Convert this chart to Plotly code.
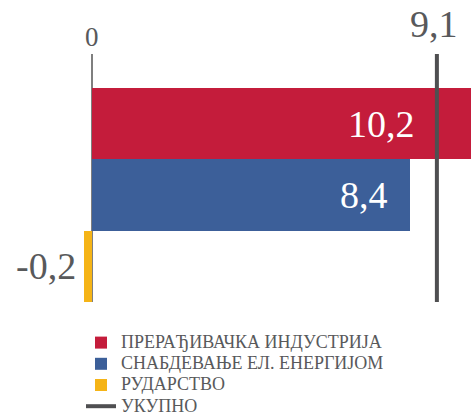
import plotly.graph_objects as go

categories = ["ПРЕРАЂИВАЧКА ИНДУСТРИЈА", "СНАБДЕВАЊЕ ЕЛ. ЕНЕРГИЈОМ", "РУДАРСТВО"]
values = [10.2, 8.4, -0.2]
colors = ["#C41C3B", "#3C5F99", "#F5B417"]
total_name = "УКУПНО"
total_value = 9.1
total_color = "#4F4F51"

def fmt(v):
    return f"{v:.1f}".replace(".", ",")

def legend_label(s):
    return f"<span style='font-size:18px'>{s}</span>"

FONT = "Liberation Serif"
W, H = 471, 412
top_m, bot_m = 54, 110
px_per_unit = 37.9
zero_px = 92
x_range = [-zero_px / px_per_unit, (W - zero_px) / px_per_unit]
n = len(categories)
top_pad = 0.477
y_range = [n - 0.5, -0.5 - top_pad]

fig = go.Figure()
for i, (c, v, col) in enumerate(zip(categories, values, colors)):
    fig.add_trace(go.Bar(
        x=[v], y=[i], orientation="h", name=legend_label(c),
        marker=dict(color=col, line=dict(width=0)),
        width=1, hoverinfo="skip",
    ))

fig.add_trace(go.Scatter(
    x=[total_value, total_value], y=y_range, mode="lines", name=legend_label(total_name),
    line=dict(color=total_color, width=4), hoverinfo="skip",
))

# value labels
for i, v in enumerate(values):
    if v >= 0:
        fig.add_annotation(
            x=min(v, total_value), y=i, xref="x", yref="y",
            text=fmt(v), showarrow=False, xanchor="right", xshift=-20,
            font=dict(family=FONT, size=38, color="white"),
        )
    else:
        fig.add_annotation(
            x=v, y=i, xref="x", yref="y",
            text=fmt(v), showarrow=False, xanchor="right", xshift=-6,
            font=dict(family=FONT, size=38, color="#58595B"),
        )

# top labels
fig.add_annotation(x=0, y=1, xref="x", yref="paper", text="0", showarrow=False,
                   yanchor="bottom", yshift=0,
                   font=dict(family=FONT, size=27, color="#58595B"))
fig.add_annotation(x=total_value, y=1, xref="x", yref="paper", text=fmt(total_value),
                   showarrow=False, yanchor="bottom", yshift=7, xshift=-3,
                   font=dict(family=FONT, size=38, color="#58595B"))

fig.update_layout(
    width=W, height=H,
    margin=dict(l=0, r=0, t=top_m, b=bot_m, pad=0, autoexpand=False),
    paper_bgcolor="white", plot_bgcolor="white",
    barmode="overlay", bargap=0,
    showlegend=True,
    legend=dict(
        xref="container", yref="container",
        x=81 / W, y=1 - 327 / H,
        xanchor="left", yanchor="top",
        font=dict(family=FONT, size=14, color="#58595B"),
        bgcolor="rgba(0,0,0,0)", tracegroupgap=0,
    ),
    xaxis=dict(range=x_range, showgrid=False, showticklabels=False, ticks="",
               zeroline=True, zerolinecolor="#7F7F7F", zerolinewidth=1.5,
               fixedrange=True),
    yaxis=dict(range=y_range, showgrid=False, showticklabels=False, ticks="",
               zeroline=False, fixedrange=True),
)

fig.write_html(
    "out.html",
    config={"displayModeBar": False},
    post_script="document.body.style.margin='0';document.body.style.overflow='hidden';",
)
